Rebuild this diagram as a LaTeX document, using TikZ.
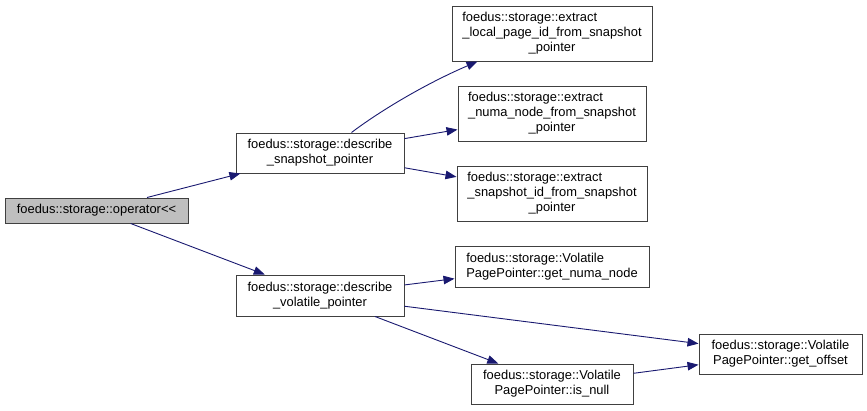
\documentclass[tikz,border=0pt]{standalone}
\usepackage{fontspec}
\setmainfont{Liberation Sans}
\usetikzlibrary{arrows.meta,calc}
\definecolor{edgeblue}{RGB}{25,25,112}
\definecolor{boxline}{RGB}{64,64,64}
\definecolor{rootfill}{RGB}{191,191,191}
\newcommand\twol[2]{\begin{tabular}{@{}l@{}}#1\\\multicolumn{1}{@{}c@{}}{#2}\end{tabular}}
\newcommand\threel[3]{\begin{tabular}{@{}l@{}}#1\\#2\\\multicolumn{1}{@{}c@{}}{#3}\end{tabular}}
\begin{document}
\begin{tikzpicture}[x=1pt,y=-1pt,
  every node/.style={font=\fontsize{12.9}{15}\selectfont},
  fnbox/.style={draw=boxline,line width=1pt,fill=white,rectangle,inner sep=0pt},
  rootbox/.style={fnbox,fill=rootfill},
  call/.style={draw=edgeblue,line width=0.9pt,-{Triangle[length=11pt,width=8.5pt]}}]
\useasboundingbox (0,0) rectangle (867,410);
\node[rootbox,minimum width=183pt,minimum height=25pt] (op) at (96.5,210.5) {foedus::storage::operator<{}<};
\node[fnbox,minimum width=168pt,minimum height=40pt] (snap) at (320,153) {\twol{foedus::storage::describe}{\_snapshot\_pointer}};
\node[fnbox,minimum width=168pt,minimum height=41pt] (vol) at (320,295.5) {\twol{foedus::storage::describe}{\_volatile\_pointer}};
\node[fnbox,minimum width=200pt,minimum height=55pt] (local) at (552,33.5) {\threel{foedus::storage::extract}{\_local\_page\_id\_from\_snapshot}{\_pointer}};
\node[fnbox,minimum width=188pt,minimum height=55pt] (numa) at (552,113.5) {\threel{foedus::storage::extract}{\_numa\_node\_from\_snapshot}{\_pointer}};
\node[fnbox,minimum width=190pt,minimum height=55pt] (sid) at (552,193.5) {\threel{foedus::storage::extract}{\_snapshot\_id\_from\_snapshot}{\_pointer}};
\node[fnbox,minimum width=194pt,minimum height=41pt] (gnuma) at (552,266.5) {\twol{foedus::storage::Volatile}{PagePointer::get\_numa\_node}};
\node[fnbox,minimum width=163pt,minimum height=40pt] (goff) at (780.5,354) {\twol{foedus::storage::Volatile}{PagePointer::get\_offset}};
\node[fnbox,minimum width=162pt,minimum height=40pt] (isnull) at (552,384) {\twol{foedus::storage::Volatile}{PagePointer::is\_null}};
\draw[call] (op) -- (snap);
\draw[call] (op) -- (vol);
\draw[call] ($(snap.north west)+(116,0)$) .. controls (380,111) and (425,84) .. ($(local.south west)+(26,0)$);
\draw[call] (snap) -- (numa);
\draw[call] (snap) -- (sid);
\draw[call] (vol) -- (gnuma);
\draw[call] (vol) -- (goff);
\draw[call] (vol) -- (isnull);
\draw[call] (isnull) -- (goff);
\end{tikzpicture}
\end{document}
